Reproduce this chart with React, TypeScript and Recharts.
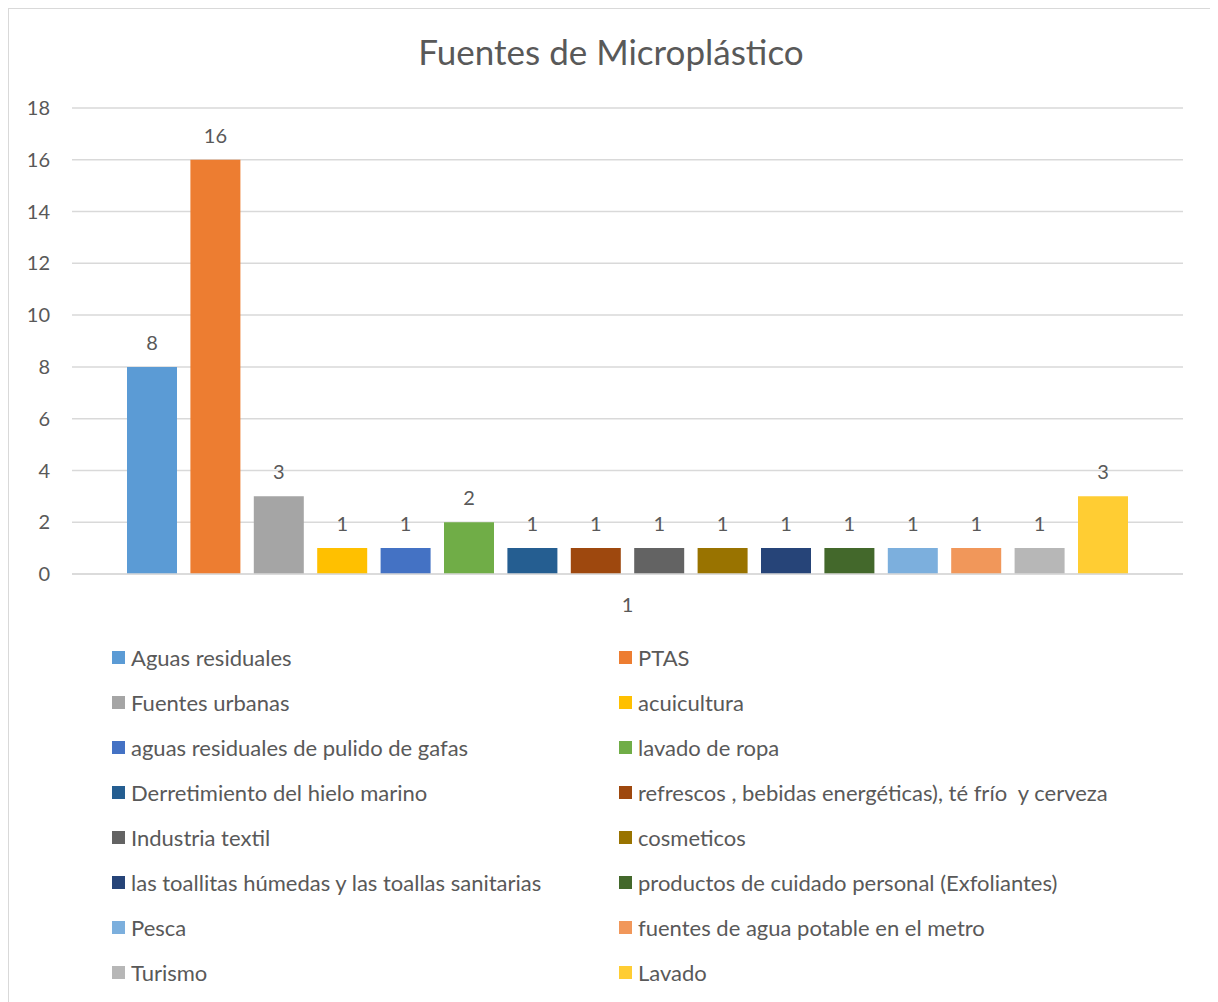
import React from "react";
import { BarChart, Bar, XAxis, YAxis, CartesianGrid, Legend, LabelList } from "recharts";

const categories = ["1"];

const seriesNames = [
  "Aguas residuales",
  "PTAS",
  "Fuentes urbanas",
  "acuicultura",
  "aguas residuales de pulido de gafas",
  "lavado de ropa",
  "Derretimiento del hielo marino",
  "refrescos , bebidas energéticas), té frío  y cerveza",
  "Industria textil",
  "cosmeticos",
  "las toallitas húmedas y las toallas sanitarias",
  "productos de cuidado personal (Exfoliantes)",
  "Pesca",
  "fuentes de agua potable en el metro",
  "Turismo",
  "Lavado",
];

const seriesValues = [8, 16, 3, 1, 1, 2, 1, 1, 1, 1, 1, 1, 1, 1, 1, 3];

const seriesColors = [
  "#5B9BD5",
  "#ED7D31",
  "#A5A5A5",
  "#FFC000",
  "#4472C4",
  "#70AD47",
  "#255E91",
  "#9E480E",
  "#636363",
  "#997300",
  "#264478",
  "#43682B",
  "#7CAFDD",
  "#F1975A",
  "#B7B7B7",
  "#FFCD33",
];

const yTicks = [0, 2, 4, 6, 8, 10, 12, 14, 16, 18];

const FONT = "Lato, 'Liberation Sans', sans-serif";
const TEXT = "#595959";

const data = categories.map((name) => {
  const row: Record<string, string | number> = { name };
  seriesNames.forEach((s, i) => {
    row["s" + i] = seriesValues[i];
  });
  return row;
});

function LegendGrid() {
  return (
    <div
      style={{
        display: "grid",
        gridTemplateColumns: "507px 500px",
        gridAutoRows: "45px",
        width: 1007,
        height: 360,
        marginLeft: 103,
        fontFamily: FONT,
        fontSize: 22,
        color: TEXT,
      }}
    >
      {seriesNames.map((s, i) => (
        <div key={s} style={{ display: "flex", alignItems: "center", whiteSpace: "pre" }}>
          <span
            style={{
              display: "inline-block",
              width: 13,
              height: 13,
              background: seriesColors[i],
              marginRight: 6,
            }}
          />
          {s}
        </div>
      ))}
    </div>
  );
}

export default function App() {
  return (
    <div
      style={{
        position: "relative",
        width: 1204,
        height: 994,
        border: "1px solid #d9d9d9",
        background: "#fff",
        fontFamily: FONT,
      }}
    >
      <div
        style={{
          position: "absolute",
          top: 21,
          left: 0,
          width: "100%",
          textAlign: "center",
          fontSize: 35,
          color: TEXT,
        }}
      >
        Fuentes de Microplástico
      </div>
      <BarChart
        width={1204}
        height={994}
        data={data}
        margin={{ top: 99, right: 30, bottom: 8, left: 0 }}
        barCategoryGap={55}
        barGap={13.4}
      >
        <CartesianGrid vertical={false} stroke="#d9d9d9" strokeWidth={1.5} />
        <XAxis
          dataKey="name"
          height={61}
          axisLine={{ stroke: "#d9d9d9", strokeWidth: 1.5 }}
          tickLine={false}
          tickSize={0}
          tickMargin={24}
          tick={{ fill: TEXT, fontSize: 20, fontFamily: FONT }}
        />
        <YAxis
          width={63}
          domain={[0, 18]}
          ticks={yTicks}
          axisLine={false}
          tickLine={false}
          tickSize={0}
          tickMargin={22}
          tick={{ fill: TEXT, fontSize: 20, fontFamily: FONT }}
        />
        <Legend verticalAlign="bottom" content={() => <LegendGrid />} />
        {seriesNames.map((s, i) => (
          <Bar key={s} dataKey={"s" + i} name={s} fill={seriesColors[i]} isAnimationActive={false}>
            <LabelList
              dataKey={"s" + i}
              position="top"
              offset={17}
              fill={TEXT}
              fontSize={20}
              fontFamily={FONT}
            />
          </Bar>
        ))}
      </BarChart>
    </div>
  );
}
